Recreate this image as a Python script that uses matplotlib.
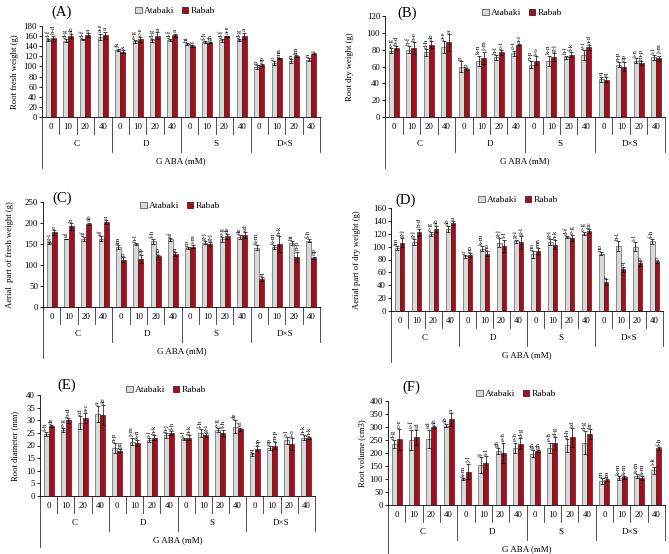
import matplotlib
matplotlib.use('Agg')
import matplotlib.pyplot as plt
import numpy as np
from matplotlib.patches import Patch
from matplotlib.transforms import blended_transform_factory

plt.rcParams['font.family'] = ['Liberation Serif', 'DejaVu Serif']

W, H = 669, 554
fig = plt.figure(figsize=(6.69, 5.54), dpi=100)

groups = ['C', 'D', 'S', 'D×S']
gaba = ['0', '10', '20', '40']
series = ['Atabaki', 'Rabab']

# ---------------- data (order: C0,C10,C20,C40, D0..D40, S0..S40, DxS0..DxS40)
A_ata = [152, 151, 154, 159, 133, 150, 152, 152, 145, 149, 152, 153, 99, 106, 111, 113]
A_rab = [156, 160, 162, 162, 129, 154, 161, 162, 141, 147, 160, 161, 103, 116, 120, 125]
A_ata_err = [2, 3, 1, 6, 2, 3, 3, 2, 2, 2, 3, 2, 4, 4, 4, 3]
A_rab_err = [5, 4, 4, 7, 3, 5, 7, 3, 2, 1, 1, 6, 2, 1, 2, 1]
A_ata_let = ['d-f', 'd-g', 'd-f', 'a-e', 'jk', 'e-g', 'd-g', 'd-f', 'hi', 'f-h', 'd-f', 'd-g', 'p', 'o', 'n', 'n']
A_rab_let = ['b-d', 'ab', 'a', 'a', 'k', 'c-e', 'a', 'a', 'ij', 'gh', 'a-e', 'a', 'op', 'mn', 'lm', 'l']

B_ata = [79, 80, 77, 83, 60, 67, 71, 76, 62, 67, 71, 74, 45, 62, 67, 71]
B_rab = [82, 82, 86, 89, 57, 70, 77, 86, 67, 71, 74, 83, 44, 60, 64, 70]
B_ata_err = [3, 4, 4, 7, 6, 6, 3, 3, 4, 6, 2, 6, 3, 3, 3, 3]
B_rab_err = [2, 7, 4, 10, 1, 7, 3, 1, 5, 5, 3, 3, 3, 5, 2, 3]
B_ata_let = ['e-g', 'b-f', 'd-h', 'a-e', 'p', 'k-n', 'h-l', 'c-i', 'n-p', 'k-n', 'h-l', 'e-i', 'q', 'n-p', 'i-n', 'i-l']
B_rab_let = ['b-d', 'b-e', 'ab', 'a', 'p', 'j-m', 'c-i', 'a-c', 'l-o', 'g-j', 'f-k', 'a-d', 'q', 'op', 'm-p', 'j-m']

C_ata = [153, 162, 162, 163, 143, 150, 156, 161, 140, 153, 161, 167, 141, 143, 153, 158]
C_rab = [178, 192, 198, 203, 112, 114, 121, 126, 144, 150, 168, 171, 66, 150, 120, 117]
C_ata_err = [2, 1, 4, 6, 5, 3, 5, 4, 2, 4, 6, 5, 6, 4, 5, 4]
C_rab_err = [6, 8, 3, 5, 6, 10, 3, 5, 3, 4, 6, 7, 5, 18, 12, 3]
C_ata_let = ['g-i', 'ef', 'ef', 'ef', 'lm', 'h-l', 'f-h', 'ef', 'm', 'g-j', 'e-g', 'de', 'k-m', 'k-m', 'hi', 'f-h']
C_rab_let = ['e', 'b', 'ab', 'a', 'p', 'op', 'no', 'n', 'i-m', 'g-j', 'de', 'cd', 'q', 'h-k', 'n-p', 'op']

D_ata = [98, 107, 119, 127, 85, 97, 106, 108, 88, 107, 115, 120, 89, 101, 100, 108]
D_rab = [106, 122, 127, 137, 87, 89, 101, 107, 93, 103, 113, 124, 45, 65, 74, 76]
D_ata_err = [3, 5, 3, 5, 2, 4, 7, 3, 5, 5, 2, 2, 2, 8, 7, 4]
D_rab_err = [7, 6, 5, 3, 3, 4, 10, 10, 5, 7, 5, 3, 4, 4, 4, 2]
D_ata_let = ['lm', 'g-j', 'c-g', 'ab', 'o', 'k-m', 'g-j', 'g-i', 'no', 'g-i', 'd-f', 'c-g', 'no', 'h-l', 'i-l', 'f-h']
D_rab_let = ['g-j', 'b-d', 'ab', 'a', 'no', 'no', 'i-l', 'g-i', 'mn', 'h-k', 'e-g', 'bc', 'r', 'q', 'p', 'p']

E_ata = [24.7, 26.0, 29.0, 32.5, 19.0, 21.5, 22.0, 24.0, 22.5, 25.0, 26.0, 27.5, 16.5, 19.0, 22.0, 23.0]
E_rab = [27.7, 30.0, 31.0, 32.0, 18.0, 21.0, 23.0, 25.0, 23.0, 24.0, 25.0, 26.5, 18.8, 20.0, 20.5, 23.0]
E_ata_err = [0.8, 0.8, 2.5, 3.0, 2.0, 1.3, 0.8, 1.0, 0.5, 1.6, 0.8, 2.5, 0.6, 0.7, 1.4, 1.0]
E_rab_err = [0.5, 1.0, 2.0, 4.0, 0.7, 1.3, 1.0, 0.7, 1.0, 0.8, 1.3, 0.6, 1.0, 1.5, 2.3, 0.5]
E_ata_let = ['f-h', 'e-g', 'cd', 'a', 'n-p', 'j-m', 'i-l', 'h-j', 'i-l', 'f-h', 'e-g', 'de', 'q', 'op', 'i-l', 'h-k']
E_rab_let = ['de', 'b-d', 'a-c', 'ab', 'pq', 'k-n', 'h-k', 'f-h', 'h-k', 'g-i', 'f-h', 'ef', 'op', 'm-p', 'l-o', 'h-k']

F_ata = [236, 250, 255, 305, 100, 155, 208, 220, 198, 220, 230, 240, 93, 105, 112, 133]
F_rab = [252, 260, 300, 330, 128, 163, 200, 236, 207, 238, 260, 272, 96, 106, 103, 218]
F_ata_err = [15, 40, 35, 5, 2, 30, 10, 20, 15, 20, 25, 45, 12, 8, 8, 15]
F_rab_err = [40, 28, 2, 25, 28, 25, 40, 22, 5, 25, 35, 20, 5, 6, 8, 5]
F_ata_let = ['d-g', 'c-f', 'cd', 'ab', 'k-m', 'ij', 'gh', 'e-h', 'gh', 'e-h', 'd-h', 'd-g', 'm', 'k-m', 'k-m', 'i-k']
F_rab_let = ['c-e', 'cd', 'ab', 'a', 'j-l', 'i-l', 'e-h', 'd-g', 'gh', 'd-g', 'cd', 'bc', 'lm', 'k-m', 'k-m', 'f-h']

GRAY = '#d9d9d9'
RED = '#a0101f'

panels = [
    dict(tag='(A)', ylabel='Root fresh weight (g)', ylim=180, step=20,
         rect=(42, 26, 320, 117), ylab_x=15, leg=(175, 11), tagpos=(62, 12),
         d=(A_ata, A_rab, A_ata_err, A_rab_err, A_ata_let, A_rab_let)),
    dict(tag='(B)', ylabel='Root dry weight (g)', ylim=120, step=20,
         rect=(385, 16, 665, 117), ylab_x=350, leg=(522, 13), tagpos=(407, 13),
         d=(B_ata, B_rab, B_ata_err, B_rab_err, B_ata_let, B_rab_let)),
    dict(tag='(C)', ylabel='Aerial  part of fresh weight (g)', ylim=250, step=50,
         rect=(43, 202, 320, 307), ylab_x=10, leg=(180, 206), tagpos=(62, 198),
         d=(C_ata, C_rab, C_ata_err, C_rab_err, C_ata_let, C_rab_let)),
    dict(tag='(D)', ylabel='Aerial part of dry weight (g)', ylim=160, step=20,
         rect=(391, 208, 663, 311), ylab_x=357, leg=(518, 200), tagpos=(406, 200),
         d=(D_ata, D_rab, D_ata_err, D_rab_err, D_ata_let, D_rab_let)),
    dict(tag='(E)', ylabel='Root diameter (mm)', ylim=40, step=5,
         rect=(40, 395, 315, 496), ylab_x=15, leg=(166, 390), tagpos=(67, 385),
         d=(E_ata, E_rab, E_ata_err, E_rab_err, E_ata_let, E_rab_let)),
    dict(tag='(F)', ylabel='Root volume (cm3)', ylim=400, step=50,
         rect=(388, 401, 665, 505), ylab_x=362, leg=(516, 394), tagpos=(411, 387),
         d=(F_ata, F_rab, F_ata_err, F_rab_err, F_ata_let, F_rab_let)),
]

bw = 0.29
lw = 0.6
for p in panels:
    l, t, r, b = p['rect']
    ax = fig.add_axes([l / W, 1 - b / H, (r - l) / W, (b - t) / H])
    hpx = b - t
    ata, rab, ea, er, la, lr = p['d']
    n = len(ata)
    x = np.arange(n)
    ax.bar(x - bw / 2, ata, bw, color=GRAY, edgecolor='#404040', linewidth=0.4, zorder=2)
    ax.bar(x + bw / 2, rab, bw, color=RED, edgecolor='#400000', linewidth=0.4, zorder=2)
    ax.errorbar(x - bw / 2, ata, yerr=ea, fmt='none', ecolor='black', elinewidth=0.5, capsize=1.5, capthick=0.5, zorder=3)
    ax.errorbar(x + bw / 2, rab, yerr=er, fmt='none', ecolor='black', elinewidth=0.5, capsize=1.5, capthick=0.5, zorder=3)
    for i in range(n):
        ax.annotate(la[i], (x[i] - bw / 2, ata[i] + ea[i]), xytext=(-0.3, 0.8), textcoords='offset points',
                    rotation=90, ha='center', va='bottom', fontsize=5, annotation_clip=False)
        ax.annotate(lr[i], (x[i] + bw / 2, rab[i] + er[i]), xytext=(0.3, 0.8), textcoords='offset points',
                    rotation=90, ha='center', va='bottom', fontsize=5, annotation_clip=False)
    ax.set_xlim(-0.5, n - 0.5)
    ax.set_ylim(0, p['ylim'])
    ax.set_yticks(np.arange(0, p['ylim'] + 0.1, p['step']))
    ax.tick_params(axis='y', labelsize=6.3, length=2, width=lw, pad=1.5)
    ax.set_xticks([])
    for s in ['top', 'right']:
        ax.spines[s].set_visible(False)
    ax.spines['left'].set_linewidth(lw)
    ax.spines['bottom'].set_linewidth(lw)

    # multi-level category table below the axis
    tr = blended_transform_factory(ax.transData, ax.transAxes)
    f = lambda px: -px / hpx
    for i in range(n):
        ax.text(x[i], f(10), gaba[i % 4], transform=tr, ha='center', va='center', fontsize=6.3)
    for k in range(n + 1):
        xb = k - 0.5
        if k == 0:
            depth = 51
        elif k % 4 == 0:
            depth = 35
        else:
            depth = 17
        ax.plot([xb, xb], [0, f(depth)], transform=tr, color='#333333', lw=lw, clip_on=False)
    for g, name in enumerate(groups):
        ax.text(4 * g + 1.5, f(27), name, transform=tr, ha='center', va='center', fontsize=6.5)
    ax.text((n - 1) / 2, f(44), 'G ABA (mM)', transform=tr, ha='center', va='center', fontsize=6.5)

    fig.text(p['ylab_x'] / W, 1 - ((t + b) / 2) / H, p['ylabel'], rotation=90,
             ha='center', va='center', fontsize=6.2)
    fig.text(p['tagpos'][0] / W, 1 - p['tagpos'][1] / H, p['tag'], ha='center', va='center', fontsize=10.5)
    handles = [Patch(facecolor=GRAY, edgecolor='#404040', linewidth=0.5, label=series[0]),
               Patch(facecolor=RED, edgecolor='#400000', linewidth=0.5, label=series[1])]
    fig.legend(handles=handles, loc='center', bbox_to_anchor=(p['leg'][0] / W, 1 - p['leg'][1] / H),
               bbox_transform=fig.transFigure, ncol=2, frameon=False, fontsize=6.8,
               handlelength=0.7, handleheight=0.7, handletextpad=0.2, columnspacing=0.8,
               borderpad=0, borderaxespad=0)

fig.savefig('out.png', dpi=100, facecolor='white')
